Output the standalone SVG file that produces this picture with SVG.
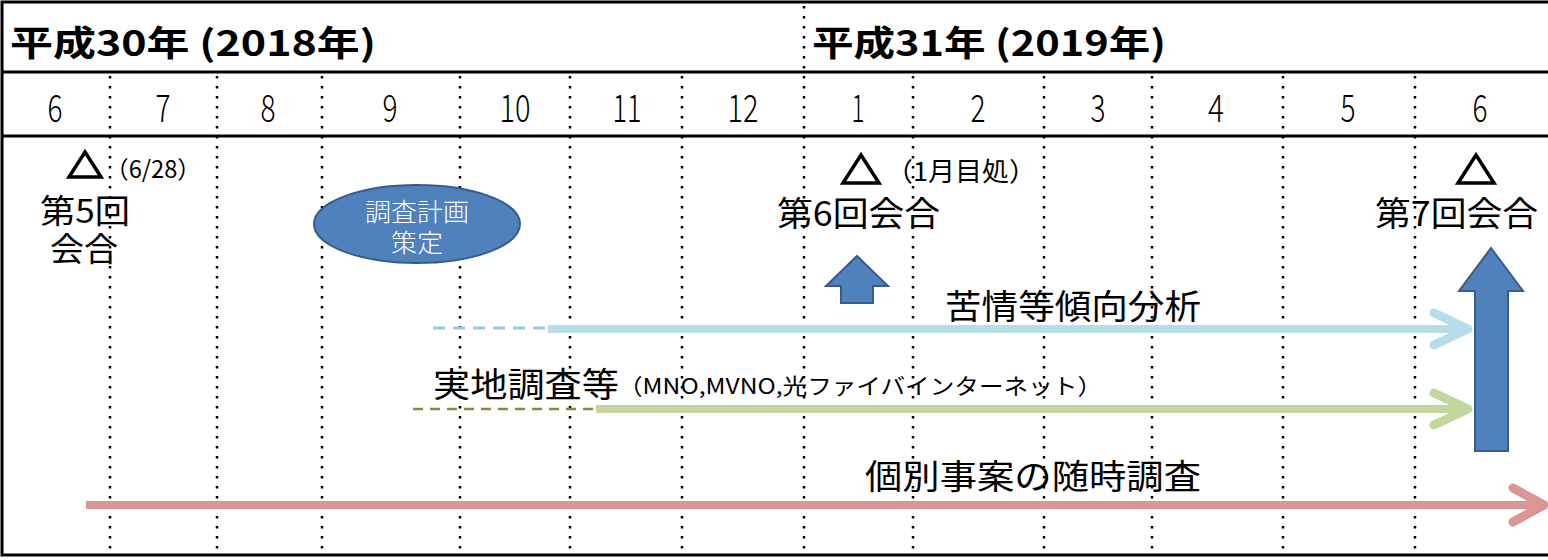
<svg xmlns="http://www.w3.org/2000/svg" width="1548" height="560" viewBox="0 0 1548 560">
<style>
.grid{stroke:#000;stroke-width:2.5;stroke-dasharray:2.5 7.5;fill:none}
.frame{stroke:#000;stroke-width:3;fill:none}
.yr{font-family:"Noto Sans CJK JP","Noto Sans",sans-serif;font-weight:bold;font-size:35px;fill:#000}
.mo{font-family:"Noto Sans CJK JP","Noto Sans",sans-serif;font-weight:300;font-size:38px;fill:#000;text-anchor:middle}
.jp{font-family:"Noto Sans CJK JP",sans-serif;fill:#000}
.tri{fill:none;stroke:#000;stroke-width:3.5;stroke-linejoin:miter}
.blue{fill:#4F81BD;stroke:#385D8A;stroke-width:2}
</style>
<rect id="bg" x="0" y="0" width="1548" height="560" fill="#fff"/>
<g id="frame">
<rect class="frame" x="2" y="2" width="1560" height="553"/>
<line class="frame" x1="2" y1="72" x2="1548" y2="72"/>
<line class="frame" x1="2" y1="136" x2="1548" y2="136"/>
</g>
<g id="grid">
<line class="grid" x1="110" y1="76" x2="110" y2="553"/>
<line class="grid" x1="217" y1="76" x2="217" y2="553"/>
<line class="grid" x1="322" y1="76" x2="322" y2="553"/>
<line class="grid" x1="460" y1="76" x2="460" y2="553"/>
<line class="grid" x1="570" y1="76" x2="570" y2="553"/>
<line class="grid" x1="682" y1="76" x2="682" y2="553"/>
<line class="grid" x1="804" y1="6" x2="804" y2="553"/>
<line class="grid" x1="913" y1="76" x2="913" y2="553"/>
<line class="grid" x1="1044" y1="76" x2="1044" y2="553"/>
<line class="grid" x1="1152" y1="76" x2="1152" y2="553"/>
<line class="grid" x1="1283" y1="76" x2="1283" y2="553"/>
<line class="grid" x1="1415" y1="76" x2="1415" y2="553"/>
</g>
<g id="years">
<text class="yr" x="10" y="56" textLength="366" lengthAdjust="spacingAndGlyphs">平成30年 (2018年)</text>
<text class="yr" x="812" y="56" textLength="354" lengthAdjust="spacingAndGlyphs">平成31年 (2019年)</text>
</g>
<g id="months">
<text class="mo" x="55" y="122" textLength="15" lengthAdjust="spacingAndGlyphs">6</text>
<text class="mo" x="163" y="122" textLength="15" lengthAdjust="spacingAndGlyphs">7</text>
<text class="mo" x="268" y="122" textLength="15" lengthAdjust="spacingAndGlyphs">8</text>
<text class="mo" x="390" y="122" textLength="15" lengthAdjust="spacingAndGlyphs">9</text>
<text class="mo" x="515" y="122" textLength="31" lengthAdjust="spacingAndGlyphs">10</text>
<text class="mo" x="627" y="122" textLength="29" lengthAdjust="spacingAndGlyphs">11</text>
<text class="mo" x="743" y="122" textLength="31" lengthAdjust="spacingAndGlyphs">12</text>
<text class="mo" x="858" y="122" textLength="13" lengthAdjust="spacingAndGlyphs">1</text>
<text class="mo" x="978" y="122" textLength="15" lengthAdjust="spacingAndGlyphs">2</text>
<text class="mo" x="1098" y="122" textLength="15" lengthAdjust="spacingAndGlyphs">3</text>
<text class="mo" x="1216" y="122" textLength="16" lengthAdjust="spacingAndGlyphs">4</text>
<text class="mo" x="1348" y="122" textLength="15" lengthAdjust="spacingAndGlyphs">5</text>
<text class="mo" x="1480" y="122" textLength="15" lengthAdjust="spacingAndGlyphs">6</text>
</g>
<g id="meeting5">
<polygon class="tri" points="85,152 101,177 69,177"/>
<text class="jp" x="105" y="178" font-size="24" textLength="96" lengthAdjust="spacingAndGlyphs">（6/28）</text>
<text class="jp" x="40" y="223" font-size="33" textLength="90" lengthAdjust="spacingAndGlyphs">第5回</text>
<text class="jp" x="50" y="261" font-size="33" textLength="68" lengthAdjust="spacingAndGlyphs">会合</text>
</g>
<g id="plan">
<ellipse class="blue" cx="417" cy="224" rx="103" ry="39"/>
<text class="jp" x="417" y="221" font-size="25" font-weight="300" style="fill:#fff" text-anchor="middle" textLength="104" lengthAdjust="spacingAndGlyphs">調査計画</text>
<text class="jp" x="417" y="252" font-size="25" font-weight="300" style="fill:#fff" text-anchor="middle" textLength="52" lengthAdjust="spacingAndGlyphs">策定</text>
</g>
<g id="meeting6">
<polygon class="tri" points="861,155 879,183 843,183"/>
<text class="jp" x="886" y="181" font-size="26" textLength="150" lengthAdjust="spacingAndGlyphs">（1月目処）</text>
<text class="jp" x="777" y="226" font-size="34" textLength="163" lengthAdjust="spacingAndGlyphs">第6回会合</text>
<polygon class="blue" points="857,256 888,286 873,286 873,303 841,303 841,286 826,286"/>
</g>
<g id="meeting7">
<polygon class="tri" points="1476,155 1494,183 1458,183"/>
<text class="jp" x="1375" y="226" font-size="34" textLength="163" lengthAdjust="spacingAndGlyphs">第7回会合</text>
<polygon class="blue" points="1491,248 1523,291 1508,291 1508,451 1475,451 1475,291 1459,291"/>
</g>
<g id="connectors" fill="none" stroke-linecap="round" stroke-linejoin="round">
<line x1="433" y1="328" x2="547" y2="328" stroke="#93CDDD" stroke-width="3" stroke-dasharray="12 8" stroke-linecap="butt"/>
<line x1="548" y1="329" x2="1466" y2="329" stroke="#B7DEE8" stroke-width="8" stroke-linecap="butt"/>
<polyline points="1434,313 1468,329 1434,345" stroke="#B7DEE8" stroke-width="9"/>
<line x1="413" y1="409" x2="595" y2="409" stroke="#77933C" stroke-width="2.5" stroke-dasharray="10 7" stroke-linecap="butt"/>
<line x1="596" y1="409" x2="1466" y2="409" stroke="#C3D69B" stroke-width="8" stroke-linecap="butt"/>
<polyline points="1434,393 1468,409 1434,425" stroke="#C3D69B" stroke-width="9"/>
<line x1="86" y1="505" x2="1542" y2="505" stroke="#DA9694" stroke-width="8" stroke-linecap="butt"/>
<polyline points="1513,488 1544,505 1513,522" stroke="#DA9694" stroke-width="9"/>
</g>
<g id="labels">
<text class="jp" x="945" y="319" font-size="34" textLength="256" lengthAdjust="spacingAndGlyphs">苦情等傾向分析</text>
<text class="jp" x="433" y="397" font-size="34" textLength="186" lengthAdjust="spacingAndGlyphs">実地調査等</text>
<text class="jp" x="618" y="394" font-size="22" textLength="484" lengthAdjust="spacingAndGlyphs">（MNO,MVNO,光ファイバインターネット）</text>
<text class="jp" x="865" y="489" font-size="34" textLength="336" lengthAdjust="spacingAndGlyphs">個別事案の随時調査</text>
</g>
</svg>
